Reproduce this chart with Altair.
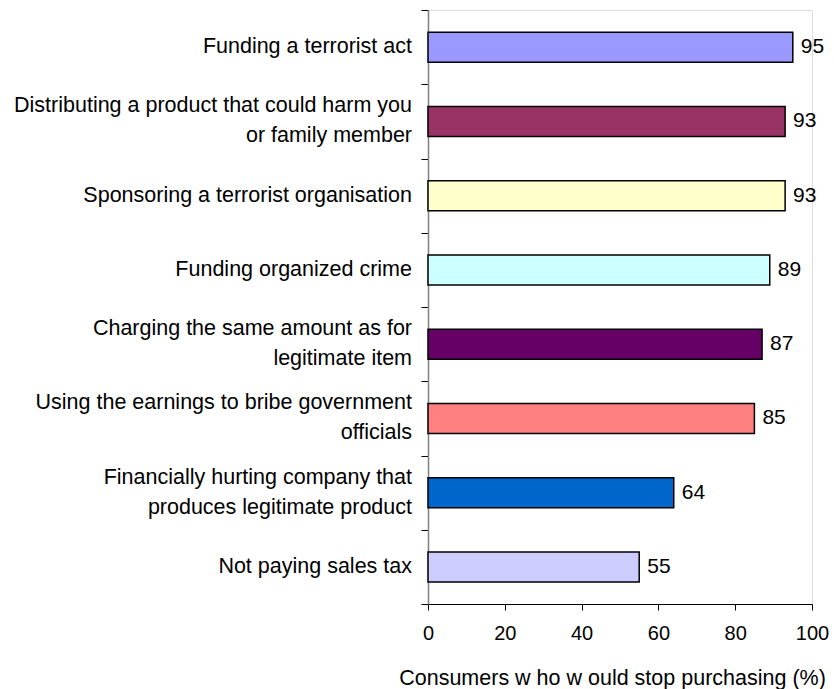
import altair as alt
import pandas as pd

categories = [
    "Funding a terrorist act",
    "Distributing a product that could harm you|or family member",
    "Sponsoring a terrorist organisation",
    "Funding organized crime",
    "Charging the same amount as for|legitimate item",
    "Using the earnings to bribe government|officials",
    "Financially hurting company that|produces legitimate product",
    "Not paying sales tax",
]
values = [95, 93, 93, 89, 87, 85, 64, 55]
colors = ["#9999FF", "#993366", "#FFFFCC", "#CCFFFF", "#660066", "#FF8080", "#0066CC", "#CCCCFF"]
x_ticks = [0, 20, 40, 60, 80, 100]

df = pd.DataFrame({"cat": categories, "val": values, "color": colors})

# label lines for the category axis (built from the categories list)
rows = []
for c in categories:
    parts = c.split("|")
    if len(parts) == 1:
        rows.append({"cat": c, "line": parts[0], "kind": "single"})
    else:
        rows.append({"cat": c, "line": parts[0], "kind": "top"})
        rows.append({"cat": c, "line": parts[1], "kind": "bottom"})
lines_df = pd.DataFrame(rows)

FONT = "Liberation Sans"
FS = 21.5

y_scale = alt.Scale(domain=categories, paddingInner=0, paddingOuter=0)

y_enc = alt.Y(
    "cat:N",
    sort=None,
    scale=y_scale,
    axis=alt.Axis(
        title=None,
        labels=False,
        tickSize=7,
        tickColor="black",
        tickBand="extent",
        domainColor="#808080",
        domainWidth=1.5,
    ),
)

bars = alt.Chart(df).mark_bar(size=30, stroke="black", strokeWidth=1.5).encode(
    x=alt.X(
        "val:Q",
        scale=alt.Scale(domain=[0, 100], nice=False),
        axis=alt.Axis(
            title="Consumers w ho w ould stop purchasing (%)",
            values=x_ticks,
            grid=False,
            labelFont=FONT,
            labelFontSize=20,
            labelColor="black",
            labelPadding=13,
            tickSize=6,
            tickColor="black",
            domainColor="black",
            titleFont=FONT,
            titleFontSize=21.5,
            titleFontWeight="normal",
            titleColor="black",
            titlePadding=24,
            titleX=184,
            titleAlign="center",
            labelFlush=False,
        ),
    ),
    y=y_enc,
    color=alt.Color("color:N", scale=None),
)

values_text = alt.Chart(df).mark_text(
    align="left", baseline="middle", dx=8, font=FONT, fontSize=21, color="black"
).encode(
    x="val:Q",
    y=alt.Y("cat:N", sort=None, scale=y_scale),
    text="val:Q",
)


def label_layer(kind, dy):
    return (
        alt.Chart(lines_df)
        .transform_filter(alt.datum.kind == kind)
        .mark_text(align="right", baseline="middle", dy=dy, font=FONT, fontSize=FS, color="black")
        .encode(
            x=alt.value(-16),
            y=alt.Y("cat:N", sort=None, scale=y_scale),
            text="line:N",
        )
    )


chart = (
    alt.layer(
        bars,
        values_text,
        label_layer("single", 0),
        label_layer("top", -15),
        label_layer("bottom", 15),
    )
    .properties(
        width=384,
        height=594,
        autosize=alt.AutoSizeParams(type="none"),
        padding={"left": 428, "top": 10, "right": 22, "bottom": 85},
    )
    .configure_view(stroke=None)
    .configure(background="white")
)

chart.save("out.html", embed_options={"renderer": "svg", "actions": False})
